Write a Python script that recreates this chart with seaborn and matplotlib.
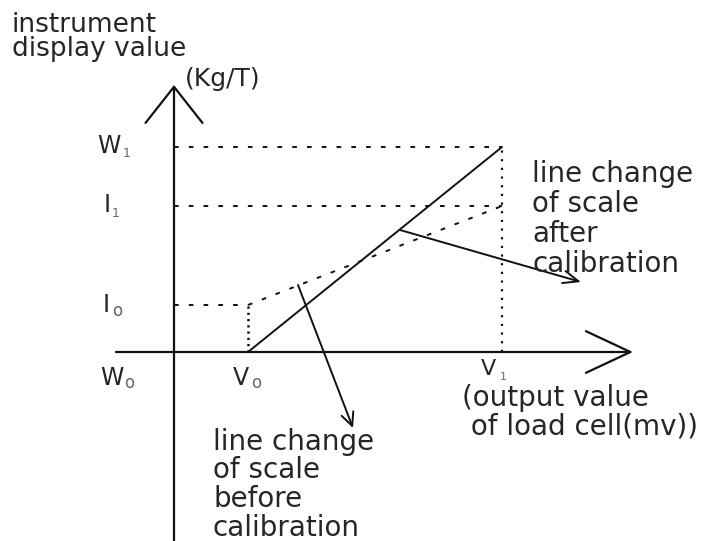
import numpy as np
import pandas as pd
import matplotlib
matplotlib.use("Agg")
import matplotlib.pyplot as plt
import seaborn as sns

# ── values (diagram units: origin where the two axes cross) ─────────────────
V0, V1 = 74, 328            # output value of load cell (mv)
W0, W1 = 0, 205             # instrument display value after calibration
I0, I1 = 47, 146            # instrument display value before calibration

LINE = "#111111"
TEXT = "#262626"
SUB = "#666666"
FS = 20

sns.set_theme(style="white")
plt.rcParams["font.family"] = ["DejaVu Sans"]

fig = plt.figure(figsize=(7.28, 5.41), dpi=100)
ax = fig.add_axes([0, 0, 1, 1])
ax.set_xlim(-174, 554)
ax.set_ylim(-189, 352)
ax.set_axis_off()

# ── calibration lines ───────────────────────────────────────────────────────
dash = (0, (2.4, 5.2))
after = pd.DataFrame({"x": [V0, V1], "y": [W0, W1]})
before = pd.DataFrame({"x": [V0, V1], "y": [I0, I1]})
sns.lineplot(data=after, x="x", y="y", color=LINE, lw=1.4, ax=ax,
             sort=False, estimator=None)
sns.lineplot(data=before, x="x", y="y", color=LINE, lw=1.4, ax=ax,
             sort=False, estimator=None, linestyle=dash)

# ── dotted guides ───────────────────────────────────────────────────────────
for yv, xe in [(W1, V1), (I1, V1), (I0, V0)]:
    ax.plot([0, xe], [yv, yv], color=LINE, lw=1.4, linestyle=dash)
ax.plot([V1, V1], [W0, W1], color=LINE, lw=1.6, linestyle=(0, (1.0, 2.9)))
ax.plot([V0, V0], [W0, I0], color=LINE, lw=1.8, linestyle=(0, (0.9, 1.6)))

# ── axes with open arrow heads ──────────────────────────────────────────────
ax.annotate("", xy=(0, 267), xytext=(0, -189),
            arrowprops=dict(arrowstyle="->,head_length=2.6,head_width=2.05",
                            lw=1.6, color=LINE, shrinkA=0, shrinkB=0,
                            mutation_scale=10))
ax.annotate("", xy=(459, 0), xytext=(-58, 0),
            arrowprops=dict(arrowstyle="->,head_length=3.2,head_width=1.5",
                            lw=1.6, color=LINE, shrinkA=0, shrinkB=0,
                            mutation_scale=10))

# ── pointer arrows ──────────────────────────────────────────────────────────
ax.annotate("", xy=(407, 70), xytext=(226, 122),
            arrowprops=dict(arrowstyle="->,head_length=1.1,head_width=0.45",
                            lw=1.4, color=LINE, shrinkA=0, shrinkB=0,
                            mutation_scale=10))
ax.annotate("", xy=(179, -76), xytext=(124, 67),
            arrowprops=dict(arrowstyle="->,head_length=0.95,head_width=0.45",
                            lw=1.4, color=LINE, shrinkA=0, shrinkB=0,
                            mutation_scale=10))

# ── labels ──────────────────────────────────────────────────────────────────
def label(x, y, s, size=FS, color=TEXT, **kw):
    ax.text(x, y, s, fontsize=size, color=color, ha="left", va="baseline", **kw)

label(-162, 296, "instrument\ndisplay value", size=19, linespacing=0.9)
label(11, 266, "(Kg/T)", size=18)

# axis marks: letter + small subscript
label(-77, 199, "W", size=17)
label(-51, 195, "1", size=9, color=SUB)
label(-70, 140, "I", size=17)
label(-62, 135, "1", size=9, color=SUB)
label(-71, 40, "I", size=17)
label(-62, 36, "o", size=12, color=SUB)
label(-74, -33, "W", size=17)
label(-50, -36, "o", size=12, color=SUB)
label(59, -33, "V", size=17)
label(77, -36, "o", size=12, color=SUB)
label(307, -23, "V", size=16)
label(326, -28, "1", size=8, color=SUB)

label(288, -54, "(output value")
label(288, -83, " of load cell(mv))")

for i, s in enumerate(["line change", "of scale", "after", "calibration"]):
    label(358, 170 - 30 * i, s)
for i, s in enumerate(["line change", "of scale", "before", "calibration"]):
    label(39, -98 - 28.5 * i, s)

fig.savefig("out.png", dpi=100)
